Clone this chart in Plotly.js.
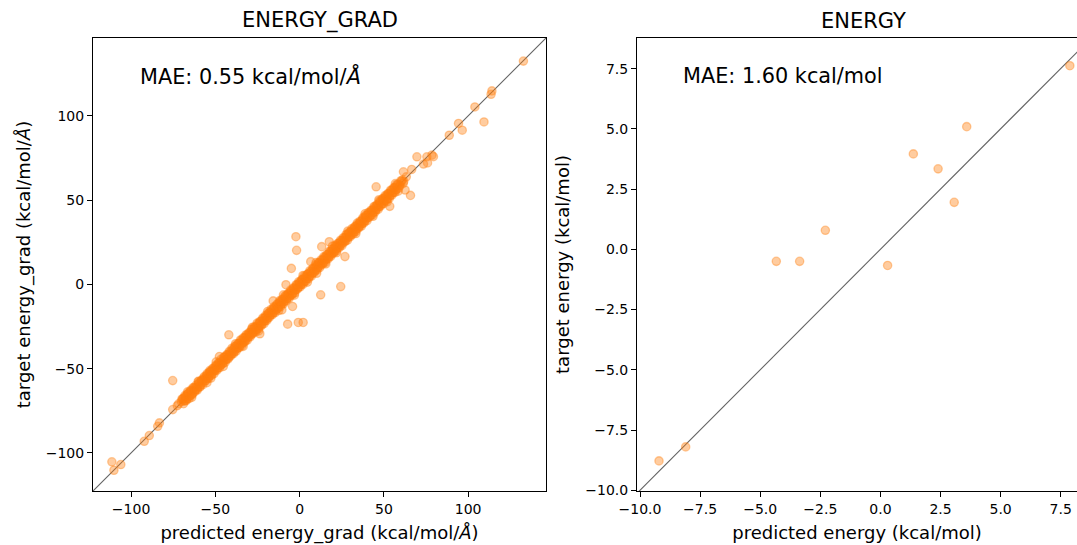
<!DOCTYPE html>
<html>
<head>
<meta charset="utf-8">
<script src="https://cdn.plot.ly/plotly-3.0.1.min.js"></script>
<style>html,body{margin:0;padding:0;background:#fff;}</style>
</head>
<body>
<div id="chart" style="width:1077px;height:545px;"></div>
<script>
// ---------- ENERGY_GRAD panel (predicted vs target, kcal/mol/Å) ----------
// dense band of points lying on the diagonal (centre of the band)
const bandPredicted = [
 -70.2,-69.4,-68.6,-67.9,-67.1,-66.3,-65.5,-64.6,-63.8,-62.9,-62.1,-61.2,-60.4,-59.5,-58.7,-57.8,-57.0,-56.1,-55.3,-54.4,
 -53.6,-52.7,-51.9,-51.0,-50.2,-49.3,-48.5,-47.6,-46.8,-45.9,-45.1,-44.2,-43.4,-42.5,-41.7,-40.8,-40.0,-39.1,-38.3,-37.4,
 -36.6,-35.7,-34.9,-34.0,-33.2,-32.3,-31.5,-30.6,-29.8,-28.9,-28.1,-27.2,-26.4,-25.5,-24.7,-23.8,-23.0,-22.1,-21.3,-20.4,
 -19.6,-18.7,-17.9,-17.0,-16.2,-15.3,-14.5,-13.6,-12.8,-11.9,-11.1,-10.2,-9.4,-8.5,-7.7,-6.8,-6.0,-5.1,-4.3,-3.4,
 -2.6,-1.7,-0.9,0.0,0.8,1.7,2.5,3.4,4.2,5.1,5.9,6.8,7.6,8.5,9.3,10.2,11.0,11.9,12.7,13.6,
 14.4,15.3,16.1,17.0,17.8,18.7,19.5,20.4,21.2,22.1,22.9,23.8,24.6,25.5,26.3,27.2,28.0,28.9,29.7,30.6,
 31.4,32.3,33.1,34.0,34.8,35.7,36.5,37.4,38.2,39.1,39.9,40.8,41.6,42.5,43.3,44.2,45.0,45.9,46.7,47.6,
 48.4,49.3,50.1,51.0,51.8,52.7,53.5,54.4,55.3,56.2,57.1,58.0,59.2,60.4,61.8,63.3
];
const bandTarget = [
 -69.5,-68.1,-68.9,-66.6,-67.8,-65.1,-66.2,-63.7,-64.9,-61.8,-62.5,-60.9,-60.9,-58.4,-59.6,-57.3,-56.4,-55.8,-56.0,-53.5,
 -54.5,-51.8,-52.2,-50.6,-50.8,-48.4,-49.3,-46.9,-47.8,-45.6,-45.3,-43.1,-44.2,-41.9,-42.4,-40.3,-40.9,-38.2,-38.8,-36.9,
 -37.5,-34.8,-35.6,-33.5,-34.0,-31.4,-32.2,-30.1,-30.4,-28.3,-28.9,-26.5,-27.1,-24.9,-25.6,-23.0,-23.7,-21.5,-22.0,-19.8,
 -20.4,-17.9,-18.6,-16.4,-16.9,-14.5,-15.3,-12.8,-13.7,-11.0,-11.8,-9.6,-10.0,-7.8,-8.6,-6.0,-6.8,-4.3,-5.2,-2.7,
 -3.3,-0.9,-1.6,0.9,0.1,2.5,1.8,4.0,3.5,5.9,5.1,7.6,6.9,9.1,8.6,11.0,10.3,12.6,12.2,14.4,
 13.7,16.0,15.4,17.8,17.1,19.4,18.8,21.2,20.5,22.8,22.3,24.6,23.8,26.2,25.9,27.8,27.3,29.8,28.9,31.4,
 30.8,33.0,32.4,34.9,34.1,36.4,35.8,38.2,37.4,39.8,39.4,41.6,40.9,43.2,42.6,45.0,44.2,46.6,46.1,48.4,
 47.6,50.0,49.6,51.8,51.0,53.5,52.8,55.2,54.5,57.1,56.3,58.6,58.6,61.0,61.2,63.8
];
// dense band, points between the centre and the edges
const bandInnerPredicted = [
 -69.0,-68.2,-67.5,-66.7,-65.9,-65.0,-64.2,-63.4,-62.6,-61.8,
 -60.9,-60.1,-59.3,-58.5,-57.6,-56.8,-56.0,-55.2,-54.3,-53.5,
 -52.7,-51.9,-51.1,-50.2,-49.4,-48.6,-47.8,-46.9,-46.1,-45.3,
 -44.5,-43.6,-42.8,-42.0,-41.2,-40.3,-39.5,-38.7,-37.9,-37.0,
 -36.2,-35.4,-34.6,-33.7,-32.9,-32.1,-31.3,-30.4,-29.6,-28.8,
 -28.0,-27.1,-26.3,-25.5,-24.7,-23.8,-23.0,-22.2,-21.4,-20.5,
 -19.7,-18.9,-18.1,-17.2,-16.4,-15.6,-14.8,-13.9,-13.1,-12.3,
 -11.5,-10.6,-9.8,-9.0,-8.2,-7.3,-6.5,-5.7,-4.9,-4.0,
 -3.2,-2.4,-1.6,-0.7,0.1,0.9,1.7,2.6,3.4,4.2,
 5.0,5.9,6.7,7.5,8.3,9.2,10.0,10.8,11.6,12.5,
 13.3,14.1,14.9,15.8,16.6,17.4,18.2,19.1,19.9,20.7,
 21.5,22.4,23.2,24.0,24.8,25.7,26.5,27.3,28.1,29.0,
 29.8,30.6,31.4,32.3,33.1,33.9,34.7,35.6,36.4,37.2,
 38.0,38.9,39.7,40.5,41.3,42.2,43.0,43.8,44.6,45.5,
 46.3,47.1,47.9,48.8,49.6,50.4,51.2,52.1,52.9,53.7,
 54.6,55.5,56.4,57.3,58.3,59.6,61.0
];
const bandInnerTarget = [
 -67.8,-69.3,-66.6,-68.0,-64.5,-66.0,-63.1,-64.6,-61.3,-62.7,
 -62.1,-59.1,-60.7,-57.4,-58.5,-55.5,-57.1,-54.0,-55.3,-52.1,
 -51.6,-53.2,-49.9,-51.1,-48.4,-49.8,-46.4,-48.0,-45.2,-46.6,
 -43.2,-44.6,-41.7,-43.4,-40.0,-41.4,-38.6,-39.9,-36.6,-38.0,
 -35.2,-36.6,-33.2,-34.8,-31.8,-33.4,-30.1,-31.3,-28.6,-30.0,
 -26.7,-28.2,-25.4,-26.8,-23.5,-24.8,-21.9,-23.6,-20.2,-21.6,
 -18.8,-20.1,-16.8,-18.2,-15.3,-16.9,-13.6,-15.0,-11.7,-13.2,
 -10.3,-11.7,-8.8,-10.3,-6.9,-8.3,-5.4,-6.9,-4.0,-5.4,
 -2.1,-3.4,-0.3,-1.9,1.1,-0.2,2.9,1.3,4.5,3.3,
 6.3,4.7,7.6,6.4,9.5,7.9,11.0,9.8,13.0,11.3,
 14.3,12.8,16.1,14.9,17.7,16.2,19.5,18.0,20.8,19.4,
 22.7,21.4,24.6,22.8,25.8,24.6,27.6,26.0,29.3,28.1,
 30.9,29.4,32.4,30.9,34.4,32.9,35.9,34.5,37.3,36.0,
 39.3,37.8,40.9,39.5,42.4,40.9,43.9,42.6,46.0,44.4,
 47.3,45.9,49.2,47.7,50.8,49.4,52.3,50.8,53.9,52.5,
 55.8,54.4,57.4,56.1,59.4,58.6,61.9
];
// dense band, points at the two edges of the band
const bandEdgePredicted = [
 -69.8,-68.9,-68.1,-67.3,-66.5,-65.6,-64.8,-64.0,-63.2,-62.3,
 -61.5,-60.7,-59.9,-59.0,-58.2,-57.4,-56.6,-55.7,-54.9,-54.1,
 -53.3,-52.4,-51.6,-50.8,-50.0,-49.1,-48.3,-47.5,-46.7,-45.8,
 -45.0,-44.2,-43.4,-42.5,-41.7,-40.9,-40.1,-39.2,-38.4,-37.6,
 -36.8,-35.9,-35.1,-34.3,-33.5,-32.6,-31.8,-31.0,-30.2,-29.3,
 -28.5,-27.7,-26.9,-26.0,-25.2,-24.4,-23.6,-22.7,-21.9,-21.1,
 -20.3,-19.4,-18.6,-17.8,-17.0,-16.1,-15.3,-14.5,-13.7,-12.8,
 -12.0,-11.2,-10.4,-9.5,-8.7,-7.9,-7.1,-6.2,-5.4,-4.6,
 -3.8,-2.9,-2.1,-1.3,-0.5,0.4,1.2,2.0,2.8,3.7,
 4.5,5.3,6.1,7.0,7.8,8.6,9.4,10.3,11.1,11.9,
 12.7,13.6,14.4,15.2,16.0,16.9,17.7,18.5,19.3,20.2,
 21.0,21.8,22.6,23.5,24.3,25.1,25.9,26.8,27.6,28.4,
 29.2,30.1,30.9,31.7,32.5,33.4,34.2,35.0,35.8,36.7,
 37.5,38.3,39.1,40.0,40.8,41.6,42.4,43.3,44.1,44.9,
 45.7,46.6,47.4,48.2,49.0,49.9,50.7,51.5,52.3,53.2,
 54.0,54.8,55.7,56.6,57.6,58.8,60.1,61.5
];
const bandEdgeTarget = [
 -68.0,-70.8,-66.0,-68.9,-65.0,-67.8,-62.9,-65.7,-61.2,-63.8,
 -59.9,-62.7,-57.7,-60.8,-56.8,-59.5,-54.7,-57.2,-52.9,-55.8,
 -51.2,-54.0,-49.9,-53.0,-48.2,-51.0,-46.8,-49.5,-44.5,-47.2,
 -43.1,-46.3,-41.8,-44.3,-39.7,-42.4,-37.9,-41.1,-36.7,-39.6,
 -35.3,-37.6,-33.0,-36.5,-31.7,-34.2,-29.9,-33.0,-28.8,-31.1,
 -26.5,-29.2,-25.2,-28.1,-23.0,-26.3,-22.0,-24.4,-20.0,-23.3,
 -18.5,-21.4,-17.1,-19.4,-14.9,-17.9,-13.3,-16.7,-12.0,-14.3,
 -9.8,-13.1,-8.8,-11.5,-6.8,-9.6,-5.6,-8.3,-3.4,-6.2,
 -2.1,-5.1,-0.2,-2.8,1.6,-1.4,2.8,0.0,5.0,2.0,
 6.0,3.4,8.1,4.9,9.6,7.0,11.6,8.6,12.7,9.9,
 14.6,12.1,16.5,13.0,17.7,15.1,19.7,16.6,20.8,18.6,
 23.2,19.8,24.2,21.8,26.2,23.0,27.7,25.3,29.6,26.2,
 30.8,28.3,33.0,29.8,34.0,31.4,36.4,33.4,37.5,34.6,
 39.5,36.6,40.9,37.8,42.7,40.1,44.0,41.3,46.2,43.1,
 47.2,44.5,49.6,46.6,50.8,48.0,52.7,49.8,53.9,51.0,
 55.9,53.0,57.3,54.6,59.3,57.2,61.5,60.0
];
// lighter points just off the band
const fringePredicted = [
 -66.5,-64.0,-60.2,-55.0,-49.5,-45.3,-38.0,-33.5,-28.0,-24.3,-19.0,-12.4,-10.5,-9.6,-3.1,2.0,4.6,9.8,10.1,15.6,
 19.5,22.0,28.6,33.4,38.8,43.6,47.0,52.0,56.8,58.5,-23.6,-15.7,6.6,-71.8,-72.6
];
const fringeTarget = [
 -63.8,-67.0,-57.5,-58.3,-46.0,-48.7,-35.2,-36.8,-25.4,-27.6,-16.1,-15.5,-15.1,-6.2,-6.4,5.3,1.3,13.0,6.6,12.2,
 22.7,18.8,31.6,30.2,41.9,40.4,50.2,49.0,59.8,55.3,-29.3,-9.8,13.5,-70.9,-72.0
];
// isolated points away from the band
const outlierPredicted = [
 -111.4,-110.2,-106.1,-92.2,-89.2,-84.2,-83.2,-75.3,-75.3,-52.6,-47.6,-42.0,-7.1,-0.8,2.1,-4.2,-8.1,-4.9,-2.2,-1.8,
 12.5,24.4,26.9,13.1,17.6,45.4,53.5,62.6,65.8,61.6,66.5,69.6,73.5,75.9,75.5,78.5,79.4,88.8,94.3,96.5,
 104.0,109.4,113.6,114.1,132.8
];
const outlierTarget = [
 -105.3,-110.3,-106.9,-93.1,-89.7,-84.2,-82.2,-74.3,-57.1,-55.6,-42.8,-29.9,-23.6,-22.6,-22.6,-13.1,-0.2,9.5,28.3,20.2,
 -6.2,-1.3,16.5,22.4,25.3,57.9,46.3,56.0,52.8,66.8,68.2,75.7,71.4,72.1,75.7,76.7,75.8,88.5,95.5,91.5,
 105.3,96.4,112.8,114.8,132.5
];
const gradRange = [-122.6, 146.2];
const gradTickVals = [-100, -50, 0, 50, 100];
const gradTickText = ['\u2212100', '\u221250', '0', '50', '100'];
const gradMAE = 'MAE: 0.55 kcal/mol/<i>\u00C5</i>';

// ---------- ENERGY panel (predicted vs target, kcal/mol) ----------
const energyPredicted = [-9.21, -8.10, -4.33, -3.36, -2.29, 0.30, 1.37, 2.40, 3.07, 3.59, 7.88];
const energyTarget    = [-8.78, -8.20, -0.50, -0.50, 0.79, -0.67, 3.96, 3.34, 1.95, 5.09, 7.62];
const energyXRange = [-10.125, 8.178];
const energyYRange = [-10.03, 8.77];
const energyTickVals = [-10, -7.5, -5, -2.5, 0, 2.5, 5, 7.5];
const energyTickText = ['\u221210.0', '\u22127.5', '\u22125.0', '\u22122.5', '0.0', '2.5', '5.0', '7.5'];
const energyMAE = 'MAE: 1.60 kcal/mol';

// ---------- drawing ----------
const W = 1077, H = 545;
const fx = p => p / W;
const fy = p => 1 - p / H;
const ORANGE = 'rgba(255,127,14,0.4)';
const FONT = 'DejaVu Sans, Liberation Sans, sans-serif';

const markerStyle = {size: 8.3, color: ORANGE, line: {color: ORANGE, width: 1.3}};
const diagStyle = {color: 'rgba(0,0,0,0.62)', width: 1.1};

const gradX = bandPredicted.concat(bandInnerPredicted, bandEdgePredicted, fringePredicted, outlierPredicted);
const gradY = bandTarget.concat(bandInnerTarget, bandEdgeTarget, fringeTarget, outlierTarget);

const eLo = Math.min(energyXRange[0], energyYRange[0]);
const eHi = Math.max(energyXRange[1], energyYRange[1]) + 1;

const traces = [
  {x: gradRange, y: gradRange, mode: 'lines', line: diagStyle, xaxis: 'x', yaxis: 'y', hoverinfo: 'skip'},
  {x: gradX, y: gradY, mode: 'markers', type: 'scatter', marker: markerStyle, xaxis: 'x', yaxis: 'y', cliponaxis: true},
  {x: [eLo, eHi], y: [eLo, eHi], mode: 'lines', line: diagStyle, xaxis: 'x2', yaxis: 'y2', hoverinfo: 'skip'},
  {x: energyPredicted, y: energyTarget, mode: 'markers', type: 'scatter', marker: markerStyle, xaxis: 'x2', yaxis: 'y2', cliponaxis: false}
];

const axisCommon = {
  showgrid: false, zeroline: false, showline: true, linecolor: 'black', linewidth: 1,
  ticks: 'outside', ticklen: 5, tickwidth: 1, tickcolor: 'black',
  tickfont: {family: FONT, size: 14, color: 'black'}, fixedrange: true
};
const titleFont = {family: FONT, size: 18, color: 'black'};

const layout = {
  width: W, height: H,
  margin: {l: 0, r: 0, t: 0, b: 0, pad: 0},
  paper_bgcolor: 'white', plot_bgcolor: 'white',
  showlegend: false,
  font: {family: FONT, color: 'black', size: 14},
  xaxis: Object.assign({}, axisCommon, {
    domain: [fx(93), fx(546)], range: gradRange, anchor: 'y', mirror: true,
    tickvals: gradTickVals, ticktext: gradTickText,
    title: {text: 'predicted energy_grad (kcal/mol/<i>\u00C5</i>)', font: titleFont, standoff: 10}
  }),
  yaxis: Object.assign({}, axisCommon, {
    domain: [fy(491), fy(38)], range: gradRange, anchor: 'x', mirror: true,
    tickvals: gradTickVals, ticktext: gradTickText,
    title: {text: 'target energy_grad (kcal/mol/<i>\u00C5</i>)', font: titleFont, standoff: 10}
  }),
  xaxis2: Object.assign({}, axisCommon, {
    domain: [fx(637), 1], range: energyXRange, anchor: 'y2', mirror: true,
    tickvals: energyTickVals, ticktext: energyTickText,
    title: {text: 'predicted energy (kcal/mol)', font: titleFont, standoff: 10}
  }),
  yaxis2: Object.assign({}, axisCommon, {
    domain: [fy(491), fy(38)], range: energyYRange, anchor: 'x2', mirror: false,
    tickvals: energyTickVals, ticktext: energyTickText,
    title: {text: 'target energy (kcal/mol)', font: titleFont, standoff: 10}
  }),
  annotations: [
    {text: 'ENERGY_GRAD', xref: 'paper', yref: 'paper', x: fx(319.5), y: fy(21), xanchor: 'center', yanchor: 'middle',
     showarrow: false, font: {family: FONT, size: 21, color: 'black'}},
    {text: 'ENERGY', xref: 'paper', yref: 'paper', x: fx(863.5), y: fy(21), xanchor: 'center', yanchor: 'middle',
     showarrow: false, font: {family: FONT, size: 21, color: 'black'}},
    {text: gradMAE, xref: 'x domain', yref: 'y domain', x: 0.1, y: 0.917, xanchor: 'left', yanchor: 'middle',
     showarrow: false, font: {family: FONT, size: 20.8, color: 'black'}},
    {text: energyMAE, xref: 'x2 domain', yref: 'y2 domain', x: 0.1, y: 0.917, xanchor: 'left', yanchor: 'middle',
     showarrow: false, font: {family: FONT, size: 20.8, color: 'black'}}
  ]
};

Plotly.newPlot('chart', traces, layout, {staticPlot: true, displayModeBar: false});
</script>
</body>
</html>
